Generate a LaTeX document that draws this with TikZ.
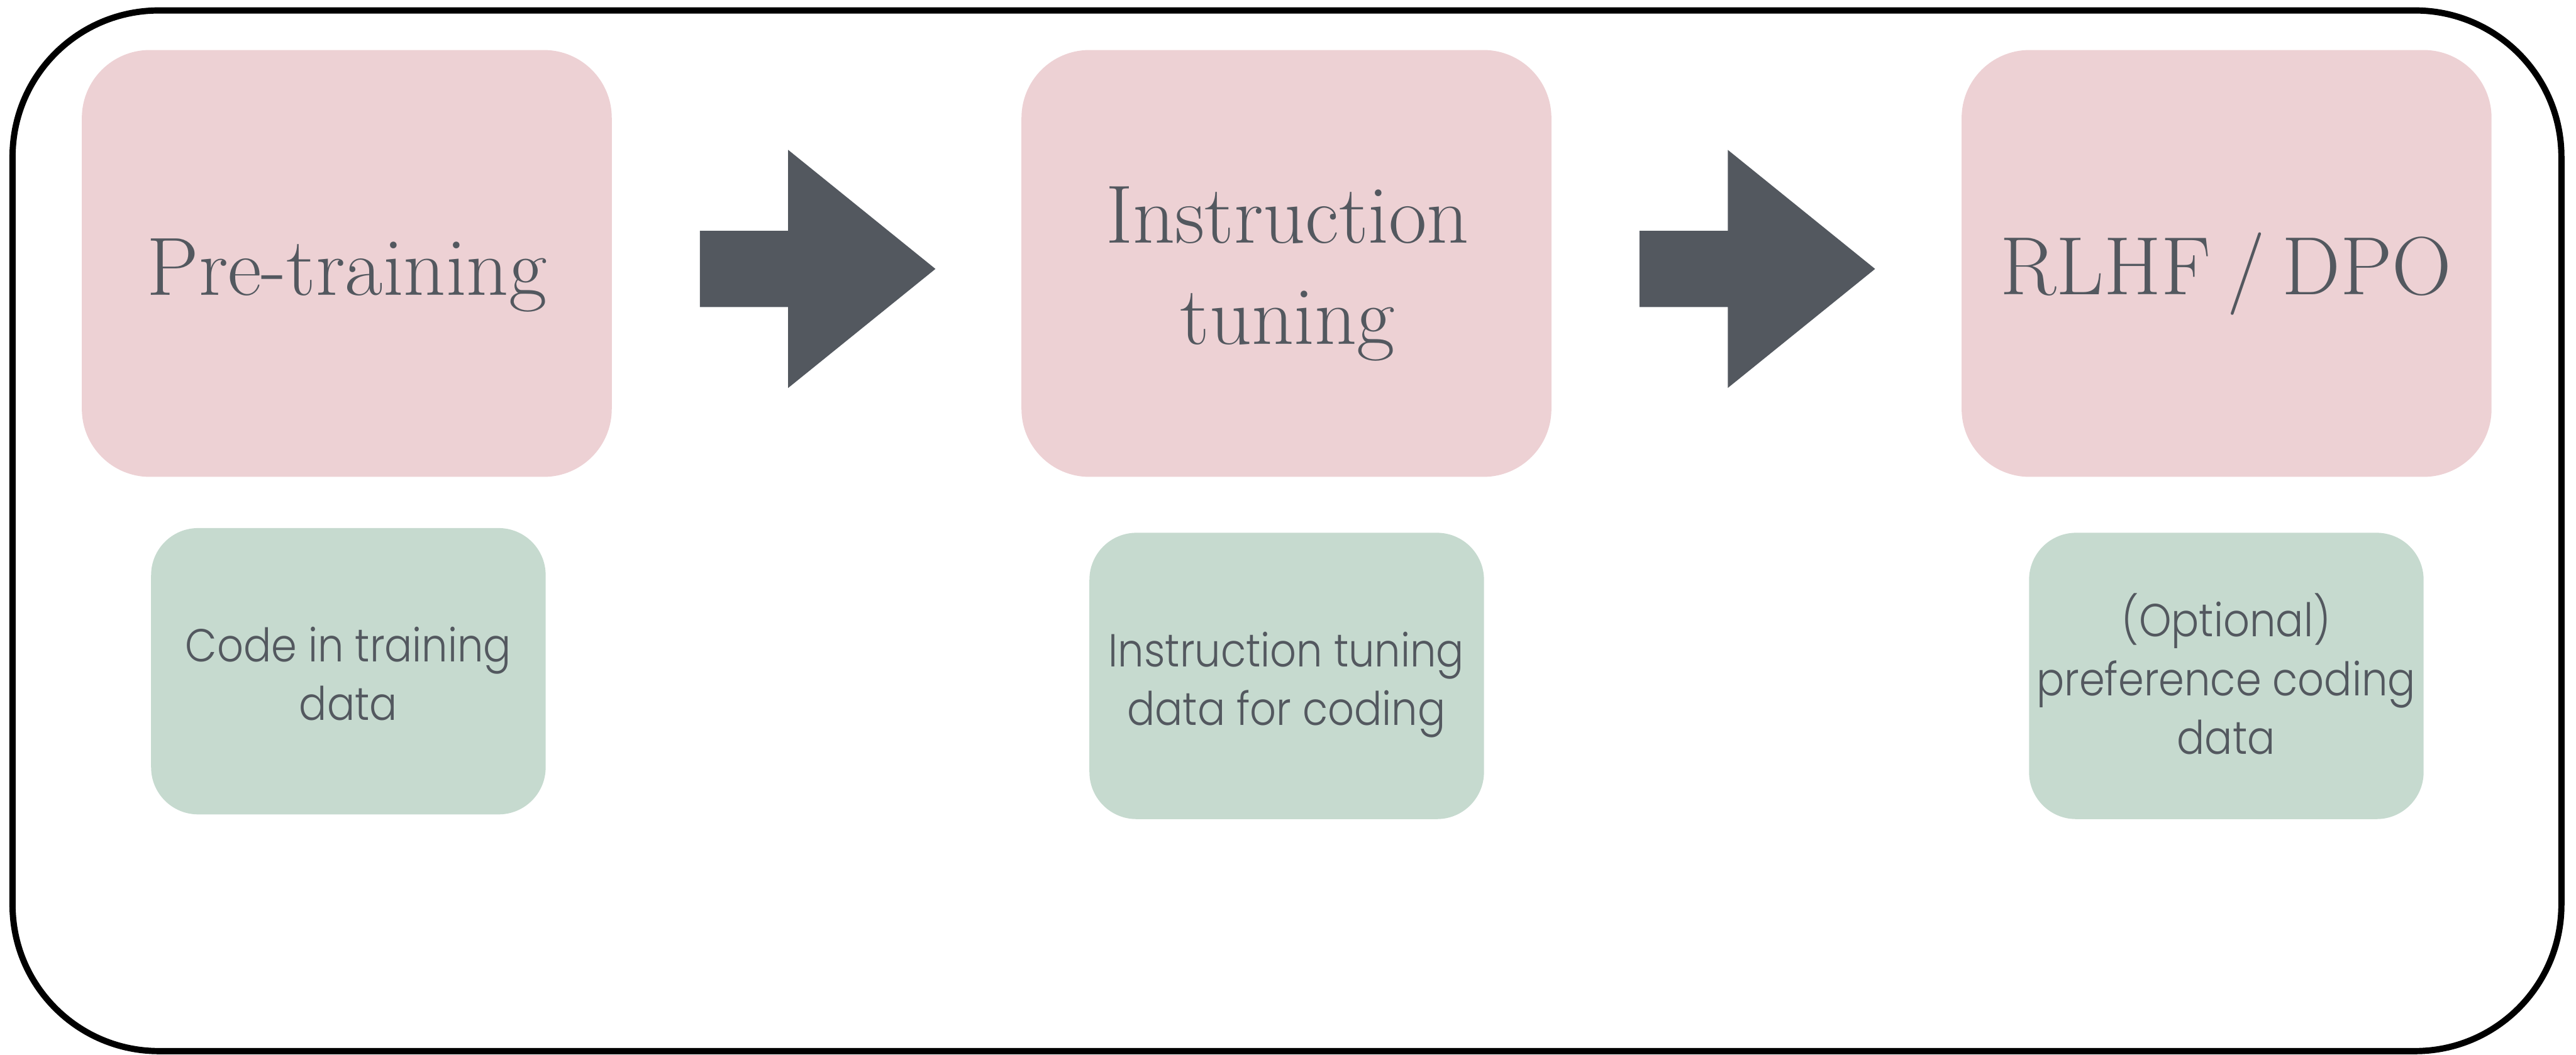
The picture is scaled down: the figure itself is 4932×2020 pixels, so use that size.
\documentclass[tikz,border=0pt]{standalone}
\usepackage{fontspec}
\newfontfamily\datafont{Poppins Light}[FakeStretch=0.89]
\definecolor{stagepink}{HTML}{EDD1D4}
\definecolor{datagreen}{HTML}{C6DACF}
\definecolor{inkgrey}{HTML}{53585F}
\tikzset{
  frame/.style={draw=black, line width=3.4pt, rounded corners=2.8cm},
  pinkbox/.style={fill=stagepink, draw=none, rounded corners=1.3cm, minimum width=10.14cm, minimum height=8.17cm, inner sep=0pt},
  greenbox/.style={fill=datagreen, draw=none, rounded corners=0.9cm, minimum width=7.55cm, minimum height=5.48cm, inner sep=0pt},
  stagetext/.style={text=inkgrey, inner sep=0pt, anchor=base, align=center, font=\fontsize{45}{54.9}\selectfont},
  datatext/.style={text=inkgrey, inner sep=0pt, anchor=base, align=center, font=\datafont\fontsize{25.2}{31.9}\selectfont},
  blockarrow/.style={fill=inkgrey, draw=none}
}
\begin{document}
\begin{tikzpicture}[x=0.01cm, y=-0.01cm]
\useasboundingbox (0,0) rectangle (4932,2020);
\draw[frame] (24,20) rectangle (4904,2013);

\node[pinkbox] (p1) at (664,504.5) {};
\node[pinkbox] (p2) at (2463,504.5) {};
\node[pinkbox] (p3) at (4263,504.5) {};

% base anchor = baseline of the last line
\node[stagetext] (t1) at (664,565) {Pre-training};
\node[stagetext] (t2) at (2465,659) {Instruction\\tuning};
\node[stagetext] (t3) at (4262,564) {RLHF\hspace{0.2em}/\hspace{0.2em}DPO};

\node[greenbox] (g1) at (667,1285.5) {};
\node[greenbox] (g2) at (2463.5,1294.5) {};
\node[greenbox] (g3) at (4262.5,1294.5) {};

\node[datatext] (d1) at (667,1379) {Code in training\\data};
\node[datatext] (d2) at (2463,1389) {Instruction tuning\\data for coding};
\node[datatext] (d3) at (4262,1444) {(Optional)\\preference coding\\data};

\coordinate (a1) at (1340,514.5);
\coordinate (a2) at (3139,514.5);
\fill[blockarrow] (a1) ++(0,-72.5) -- ++(169,0) -- ++(0,-155) -- ++(282,228) -- ++(-282,228) -- ++(0,-155) -- ++(-169,0) -- cycle;
\fill[blockarrow] (a2) ++(0,-72.5) -- ++(169,0) -- ++(0,-155) -- ++(282,228) -- ++(-282,228) -- ++(0,-155) -- ++(-169,0) -- cycle;
\end{tikzpicture}
\end{document}
